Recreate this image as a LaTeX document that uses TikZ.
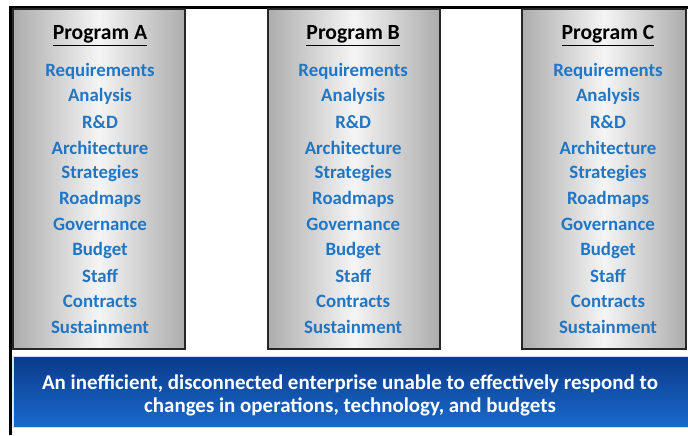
\documentclass[tikz,border=0pt]{standalone}
\usepackage{fontspec}
\setmainfont{Carlito}
\usetikzlibrary{positioning}
\definecolor{itemblue}{RGB}{33,118,196}
\definecolor{bannertop}{RGB}{10,58,138}
\definecolor{bannerbot}{RGB}{26,106,204}
\tikzset{
  progbox/.style={draw=black!85, line width=1.4pt, left color=gray!65, right color=gray!65,
    middle color=gray!8, inner sep=0pt},
  progtitle/.style={font=\fontsize{15.4}{18}\selectfont\bfseries, text=black},
  progitem/.style={font=\fontsize{13.4}{16}\selectfont\bfseries, text=itemblue, inner sep=0pt},
  banner/.style={top color=bannertop, bottom color=bannerbot, draw=white!85!blue, line width=0.6pt,
    minimum width=16.875cm, minimum height=1.775cm},
  bannertext/.style={text=white, align=center, font=\fontsize{14.9}{17}\selectfont\bfseries},
}
\begin{document}
\begin{tikzpicture}
  \useasboundingbox (0,0) rectangle (17.2,10.875);
  % outer frame
  \draw[line width=1.9pt](0.27,0)--(0.27,10.69)--(17.2,10.69);
  % program columns
  \node[progbox, minimum width=4.3cm, minimum height=8.5cm](boxA) at (2.475,6.4) {};
  \node[progbox, minimum width=4.3cm, minimum height=8.5cm](boxB) at (8.84,6.4) {};
  \node[progbox, minimum width=4.1cm, minimum height=8.5cm](boxC) at (15.1,6.4) {};
  \foreach \col/\x in {A/2.5, B/8.83, C/15.2}{
    \node[progtitle](title\col) at (\x,9.975) {\underline{Program \col}};
    \foreach \item [count=\i] in {Requirements, Analysis, R\&D, Architecture, Strategies,
        Roadmaps, Governance, Budget, Staff, Contracts, Sustainment}
      \node[progitem](\col-\i) at (\x,9.1-0.64*\i+0.64) {\item};
  }
  % bottom message
  \node[banner](msg) at (8.7625,1.0875) {};
  \node[bannertext](msgtext) at (8.75,0.99) {An inefficient, disconnected enterprise unable to effectively respond to\\
    changes in operations, technology, and budgets};
\end{tikzpicture}
\end{document}
